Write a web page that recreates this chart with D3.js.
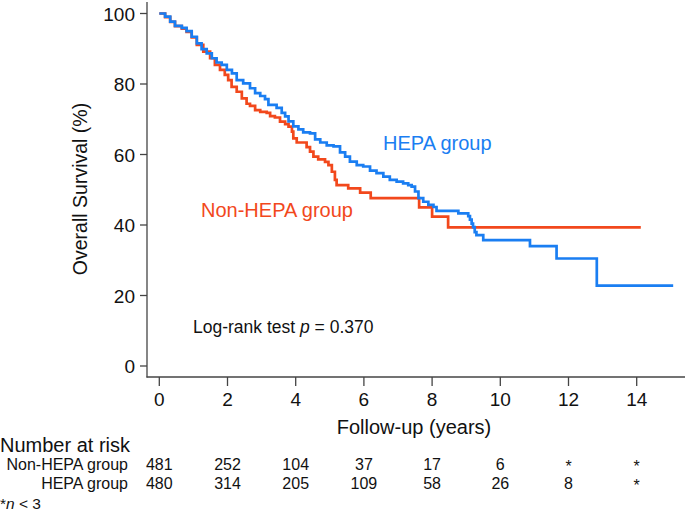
<!DOCTYPE html>
<html>
<head>
<meta charset="utf-8">
<script src="https://cdn.jsdelivr.net/npm/d3@7"></script>
<style>
  body { margin: 0; background: #fff; }
  text { font-family: "Liberation Sans", Arial, sans-serif; fill: #111; }
</style>
</head>
<body>
<script>
var width = 685;
var height = 513;

// HEPA group: time (years) of each step and survival (%) after it
var hepaTime = [0, 0.17, 0.32, 0.46, 0.66, 0.8, 0.95, 1.1, 1.24, 1.39, 1.54, 1.68, 1.83, 1.98,
  2.13, 2.27, 2.46, 2.66, 2.81, 2.96, 3.1, 3.2, 3.44, 3.59, 3.69, 3.79, 3.93, 4.08, 4.22,
  4.42, 4.57, 4.72, 4.91, 5.11, 5.3, 5.45, 5.59, 5.79, 5.98, 6.18, 6.37, 6.57, 6.76, 6.96,
  7.15, 7.3, 7.4, 7.5, 7.6, 7.74, 7.89, 8.04, 8.13, 8.77, 9.06, 9.11, 9.16, 9.2, 9.25, 9.3,
  9.5, 10.87, 11.65, 12.83, 15.07];
var hepaSurv = [100, 99.1, 97.7, 96.5, 95.9, 95.0, 93.4, 91.5, 89.9, 88.7, 87.3, 86.1, 85.4, 84.0,
  83.0, 81.1, 80.2, 78.8, 77.4, 76.6, 75.7, 74.1, 73.2, 71.8, 70.8, 69.4, 68.0, 67.1, 66.3,
  66.0, 64.3, 63.4, 62.6, 62.3, 60.6, 59.4, 58.0, 57.0, 56.6, 55.4, 54.7, 53.7, 52.8, 52.3,
  51.8, 51.3, 50.9, 49.5, 47.6, 46.6, 45.7, 45.1, 44.0, 43.3, 42.5, 41.5, 40.4, 39.4, 38.0, 37.1,
  35.7, 34.0, 30.5, 22.8, 22.8];

// Non-HEPA group
var nonTime = [0, 0.17, 0.32, 0.46, 0.66, 0.8, 0.95, 1.1, 1.29, 1.49, 1.63, 1.78, 1.92, 2.02,
  2.12, 2.27, 2.42, 2.56, 2.66, 2.81, 2.96, 3.15, 3.25, 3.39, 3.54, 3.69, 3.79, 3.89, 3.93,
  4.03, 4.32, 4.42, 4.52, 4.66, 4.86, 4.96, 5.06, 5.15, 5.2, 5.54, 5.89, 6.2, 7.62, 8.0,
  8.47, 14.12];
var nonSurv = [100, 99.0, 97.6, 96.4, 95.7, 94.8, 93.2, 91.1, 89.2, 87.3, 85.4, 84.0, 82.6, 81.1,
  79.2, 77.8, 75.9, 74.4, 73.8, 72.6, 72.1, 71.8, 70.9, 70.5, 69.3, 68.6, 67.9, 66.5, 64.6,
  63.4, 62.1, 60.8, 59.4, 58.6, 57.9, 57.0, 55.1, 52.8, 51.3, 50.4, 49.2, 47.6, 45.0, 42.4,
  39.3, 39.3];

var xTicks = [0, 2, 4, 6, 8, 10, 12, 14];
var yTicks = [0, 20, 40, 60, 80, 100];

// number at risk table
var riskTimes = [0, 2, 4, 6, 8, 10, 12, 14];
var riskNon = ["481", "252", "104", "37", "17", "6", "*", "*"];
var riskHepa = ["480", "314", "205", "109", "58", "26", "8", "*"];

var blue = "#1a7ef2";
var red = "#f2481c";

var x = d3.scaleLinear().domain([0, 14]).range([159.3, 636.7]);
var y = d3.scaleLinear().domain([0, 100]).range([366, 13.5]);

var svg = d3.select("body").append("svg")
    .attr("width", width)
    .attr("height", height);

// axes
svg.append("line")
  .attr("x1", 147).attr("x2", 147).attr("y1", 2).attr("y2", 377.5)
  .attr("stroke", "#444").attr("stroke-width", 1.3);
svg.append("line")
  .attr("x1", 146.5).attr("x2", width).attr("y1", 377).attr("y2", 377)
  .attr("stroke", "#444").attr("stroke-width", 1.3);

svg.selectAll(".ytick")
  .data(yTicks)
  .enter()
  .append("line")
  .attr("class", "ytick")
  .attr("x1", 140).attr("x2", 147)
  .attr("y1", function(d) { return y(d); })
  .attr("y2", function(d) { return y(d); })
  .attr("stroke", "#444").attr("stroke-width", 1.3);
svg.selectAll(".ylab")
  .data(yTicks)
  .enter()
  .append("text")
  .attr("class", "ylab")
  .attr("x", 135)
  .attr("y", function(d) { return y(d) + 7; })
  .attr("text-anchor", "end")
  .style("font-size", "19px")
  .text(function(d) { return d; });

svg.selectAll(".xtick")
  .data(xTicks)
  .enter()
  .append("line")
  .attr("class", "xtick")
  .attr("x1", function(d) { return x(d); })
  .attr("x2", function(d) { return x(d); })
  .attr("y1", 377).attr("y2", 386)
  .attr("stroke", "#444").attr("stroke-width", 1.3);
svg.selectAll(".xlab")
  .data(xTicks)
  .enter()
  .append("text")
  .attr("class", "xlab")
  .attr("x", function(d) { return x(d); })
  .attr("y", 406)
  .attr("text-anchor", "middle")
  .style("font-size", "19px")
  .text(function(d) { return d; });

svg.append("text")
  .attr("x", 414).attr("y", 434)
  .attr("text-anchor", "middle")
  .style("font-size", "20px")
  .text("Follow-up (years)");

svg.append("text")
  .attr("transform", "translate(87,189) rotate(-90)")
  .attr("text-anchor", "middle")
  .style("font-size", "19.5px")
  .text("Overall Survival (%)");

// survival curves
var line = d3.line()
  .x(function(d) { return x(d[0]); })
  .y(function(d) { return y(d[1]); })
  .curve(d3.curveStepAfter);

var hepaPts = hepaTime.map(function(t, i) { return [t, hepaSurv[i]]; });
var nonPts = nonTime.map(function(t, i) { return [t, nonSurv[i]]; });

svg.append("path")
  .attr("d", line(nonPts))
  .attr("fill", "none")
  .attr("stroke", red)
  .attr("stroke-width", 2.7);
svg.append("path")
  .attr("d", line(hepaPts))
  .attr("fill", "none")
  .attr("stroke", blue)
  .attr("stroke-width", 2.7);

svg.append("text")
  .attr("x", 383).attr("y", 150)
  .style("font-size", "20px")
  .style("fill", blue)
  .text("HEPA group");
svg.append("text")
  .attr("x", 201).attr("y", 217)
  .style("font-size", "20px")
  .style("fill", red)
  .text("Non-HEPA group");

var lr = svg.append("text")
  .attr("x", 193).attr("y", 333)
  .style("font-size", "17.5px");
lr.append("tspan").text("Log-rank test ");
lr.append("tspan").style("font-style", "italic").text("p");
lr.append("tspan").text(" = 0.370");

// number at risk
svg.append("text")
  .attr("x", 0).attr("y", 452)
  .style("font-size", "20px")
  .text("Number at risk");
svg.append("text")
  .attr("x", 128).attr("y", 470)
  .attr("text-anchor", "end")
  .style("font-size", "16px")
  .text("Non-HEPA group");
svg.append("text")
  .attr("x", 128).attr("y", 489)
  .attr("text-anchor", "end")
  .style("font-size", "16px")
  .text("HEPA group");

svg.selectAll(".rnon")
  .data(riskNon)
  .enter()
  .append("text")
  .attr("class", "rnon")
  .attr("x", function(d, i) { return x(riskTimes[i]); })
  .attr("y", function(d) { return d === "*" ? 472 : 470; })
  .attr("text-anchor", "middle")
  .style("font-size", "16px")
  .text(function(d) { return d; });
svg.selectAll(".rhepa")
  .data(riskHepa)
  .enter()
  .append("text")
  .attr("class", "rhepa")
  .attr("x", function(d, i) { return x(riskTimes[i]); })
  .attr("y", function(d) { return d === "*" ? 491 : 489; })
  .attr("text-anchor", "middle")
  .style("font-size", "16px")
  .text(function(d) { return d; });

var note = svg.append("text")
  .attr("x", 0).attr("y", 509)
  .style("font-size", "15.5px");
note.append("tspan").text("*");
note.append("tspan").style("font-style", "italic").text("n");
note.append("tspan").text(" < 3");
</script>
</body>
</html>
